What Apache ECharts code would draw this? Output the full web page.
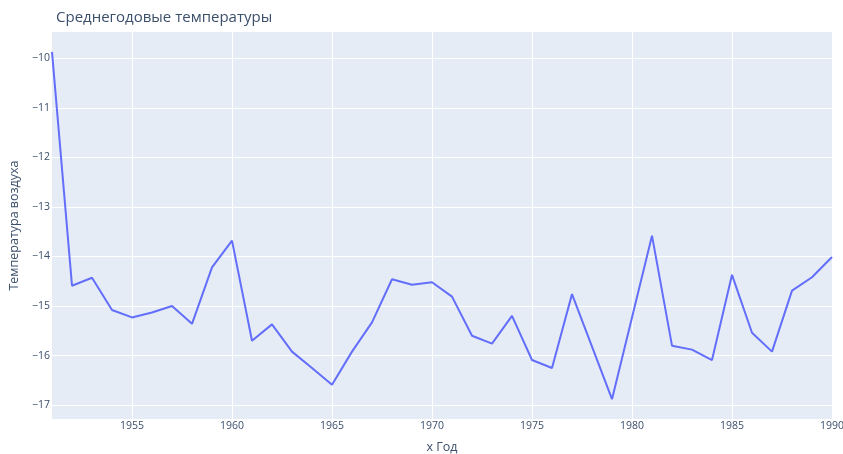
<!DOCTYPE html>
<html>
<head>
<meta charset="utf-8">
<script src="https://cdn.jsdelivr.net/npm/echarts@6/dist/echarts.min.js"></script>
<style>
  html, body { margin: 0; padding: 0; background: #fff; }
  #chart { width: 843px; height: 454px; }
</style>
</head>
<body>
<div id="chart"></div>
<script>
// годы и среднегодовые температуры
const years = [1951, 1952, 1953, 1954, 1955, 1956, 1957, 1958, 1959, 1960,
  1961, 1962, 1963, 1964, 1965, 1966, 1967, 1968, 1969, 1970,
  1971, 1972, 1973, 1974, 1975, 1976, 1977, 1978, 1979, 1980,
  1981, 1982, 1983, 1984, 1985, 1986, 1987, 1988, 1989, 1990]
const temps = [-9.87, -14.59, -14.43, -15.08, -15.23, -15.13, -15.0, -15.36, -14.22, -13.68,
  -15.70, -15.37, -15.92, -16.25, -16.59, -15.92, -15.33, -14.46, -14.57, -14.52,
  -14.81, -15.60, -15.76, -15.20, -16.09, -16.25, -14.76, -15.82, -16.88, -15.23,
  -13.58, -15.80, -15.88, -16.09, -14.37, -15.54, -15.92, -14.69, -14.42, -14.01]
const xTicks = [1955, 1960, 1965, 1970, 1975, 1980, 1985, 1990]
const yTicks = [-17, -16, -15, -14, -13, -12, -11, -10]

const chart = echarts.init(document.getElementById('chart'))
const textColor = '#3b4f6b'
const font = '"Open Sans", "Noto Sans", sans-serif'

chart.setOption({
  animation: false,
  textStyle: { fontFamily: font },
  title: {
    text: 'Среднегодовые температуры',
    left: 51,
    top: 5,
    textStyle: { fontSize: 15, fontWeight: 'normal', color: textColor, fontFamily: font }
  },
  grid: {
    left: 52,
    right: 11,
    top: 32,
    bottom: 35,
    outerBoundsMode: 'none',
    containLabel: false,
    show: true,
    backgroundColor: '#E5ECF6',
    borderWidth: 0
  },
  xAxis: {
    type: 'value',
    min: 1951,
    max: 1990,
    name: 'x Год',
    nameLocation: 'middle',
    nameGap: 22,
    nameTextStyle: { fontSize: 12.5, color: textColor },
    axisLine: { show: false },
    axisTick: { show: false, customValues: xTicks },
    axisLabel: {
      customValues: xTicks,
      margin: 2,
      fontSize: 10.5,
      color: textColor,
      formatter: v => String(v)
    },
    splitLine: { show: true, lineStyle: { color: '#ffffff', width: 1 } }
  },
  yAxis: {
    type: 'value',
    min: -17.28,
    max: -9.47,
    name: 'Температура воздуха',
    nameLocation: 'middle',
    nameGap: 21,
    nameTextStyle: { fontSize: 12.5, color: textColor },
    axisLine: { show: false },
    axisTick: { show: false, customValues: yTicks },
    axisLabel: {
      customValues: yTicks,
      margin: 2,
      fontSize: 10.5,
      color: textColor,
      formatter: v => (v < 0 ? '\u2212' + Math.abs(v) : String(v))
    },
    splitLine: { show: true, lineStyle: { color: '#ffffff', width: 1 } }
  },
  series: [{
    type: 'line',
    data: years.map((y, i) => [y, temps[i]]),
    showSymbol: false,
    lineStyle: { color: '#636efa', width: 2 },
    itemStyle: { color: '#636efa' }
  }]
})
</script>
</body>
</html>
